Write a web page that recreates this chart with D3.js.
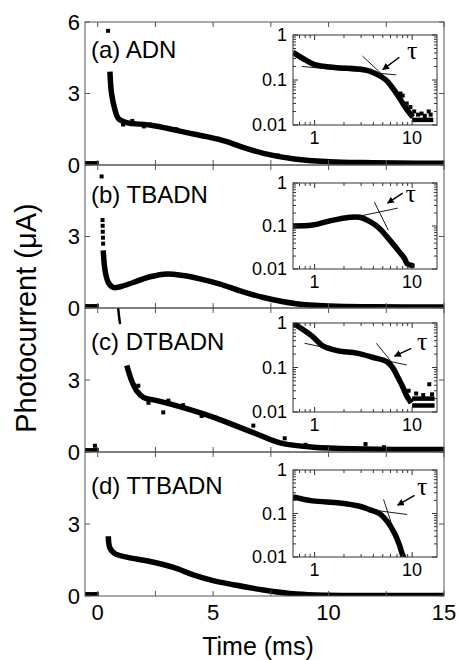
<!DOCTYPE html>
<html>
<head>
<meta charset="utf-8">
<script src="https://d3js.org/d3.v7.min.js"></script>
<style>
  body { margin: 0; background: #fff; }
  text { font-family: "Liberation Sans", Arial, sans-serif; fill: #000; }
</style>
</head>
<body>
<div id="chart"></div>
<script>
// ---- data ----
var panelNames = ["(a) ADN", "(b) TBADN", "(c) DTBADN", "(d) TTBADN"];
var xTicks = [0, 2.5, 5, 7.5, 10, 12.5, 15];
var xTickLabels = [0, 5, 10, 15];
var yTicks = [0, 3, 6];

// main transients, [time ms, current uA]
var adnMain = [[0.53,3.92],[0.6,3.0],[0.75,2.31],[0.89,1.96],[1.26,1.78],[2.27,1.68],[3.0,1.54],[3.86,1.36],[4.72,1.19],[5.59,0.98],[6.17,0.78],[7.18,0.49],[8.6,0.24],[10.07,0.14],[11.5,0.1],[13,0.08],[15,0.07]];
var tbadnMain = [[0.24,2.42],[0.32,1.57],[0.46,1.07],[0.68,0.86],[0.97,0.89],[1.54,1.07],[2.27,1.31],[3.0,1.43],[3.71,1.36],[4.43,1.22],[5.3,1.0],[6.17,0.72],[7.18,0.44],[8.6,0.18],[10.07,0.08],[12,0.05],[15,0.04]];
var dtbadnMain = [[1.26,3.6],[1.47,2.97],[1.69,2.55],[1.98,2.28],[2.56,2.14],[3.28,1.96],[4.14,1.72],[5.0,1.45],[5.88,1.13],[6.89,0.75],[7.9,0.38],[9.34,0.2],[11.5,0.13],[15,0.1]];
var ttbadnMain = [[0.46,2.49],[0.53,2.0],[0.75,1.76],[1.26,1.62],[2.27,1.44],[3.28,1.19],[4.14,0.88],[5.0,0.64],[5.88,0.47],[7.18,0.25],[8.62,0.08],[10,0.03],[12,0.02],[15,0.02]];
var baseline = [[-0.55,0.05],[0.05,0.05]];
var dtbadnSpike = [[0.86,6.5],[0.89,5.96],[0.97,5.33]];

// isolated points (spike tops, noisy samples)
var adnDots = [[0.45,5.63],[1.1,1.7],[1.5,1.85],[2.0,1.62],[3.4,1.5],[5.2,1.1],[7.8,0.4]];
var tbadnDots = [[0.17,5.52],[0.21,3.69],[0.215,3.45],[0.22,3.2],[0.23,2.95],[0.235,2.7]];
var dtbadnDots = [[-0.12,0.26],[1.76,2.76],[2.2,2.05],[2.84,1.65],[3.06,2.14],[3.7,1.95],[4.5,1.5],[5.3,1.35],[6.74,1.1],[8.1,0.57],[9.0,0.3],[11.6,0.33],[12.4,0.2]];
var ttbadnDots = [];

// insets, log-log [time ms, current]
var adnInset = [[0.6,0.41],[0.8,0.28],[1.0,0.22],[1.6,0.19],[3.2,0.17],[4.2,0.14],[5.4,0.1],[6.2,0.07],[7.1,0.046],[8.3,0.027],[9.5,0.018],[10.2,0.015]];
var tbadnInset = [[0.6,0.1],[0.95,0.105],[1.4,0.13],[2.3,0.16],[2.9,0.16],[3.7,0.126],[4.6,0.089],[5.9,0.047],[7.1,0.028],[8.3,0.018],[9.0,0.013],[10.2,0.012]];
var dtbadnInset = [[0.6,1.0],[0.95,0.5],[1.2,0.31],[1.7,0.24],[2.7,0.21],[3.9,0.17],[5.5,0.135],[6.3,0.1],[7.1,0.062],[8.0,0.037],[8.8,0.023],[9.8,0.016]];
var ttbadnInset = [[0.6,0.24],[0.95,0.195],[1.8,0.175],[2.9,0.147],[3.65,0.123],[4.6,0.1],[5.6,0.064],[6.6,0.035],[7.4,0.019],[8.0,0.011],[8.3,0.0095]];

// noise floors and stray points in the insets
var adnFloor = [[[10,0.013],[16.5,0.013]]];
var adnInsetDots = [[7.6,0.05],[8.8,0.03],[9.6,0.025],[10.5,0.02],[11.5,0.017],[12.5,0.018],[13.5,0.016],[14.8,0.02],[15.5,0.017],[8.0,0.045]];
var tbadnFloor = [[[9.6,0.012],[10.6,0.012]]];
var tbadnInsetDots = [];
var dtbadnFloor = [[[10,0.02],[17,0.02]], [[10,0.014],[17,0.014]]];
var dtbadnInsetDots = [[15,0.042],[11,0.026],[13,0.024],[16,0.025],[9.2,0.03]];
var ttbadnFloor = [];
var ttbadnInsetDots = [];

// tangent lines, arrow (from, to) and tau label, log-log coordinates
var adnFits = [[[0.74,0.2],[6.9,0.13]], [[3.1,0.34],[5.2,0.119]]];
var tbadnFits = [[[2.9,0.17],[7.1,0.26]], [[4.1,0.36],[5.7,0.08]]];
var dtbadnFits = [[[0.79,0.35],[8.8,0.114]], [[4.3,0.35],[6.3,0.124]]];
var ttbadnFits = [[[3.65,0.123],[8.9,0.095]], [[5.1,0.21],[6.3,0.049]]];
var adnArrow = [[7.4,0.32],[5.0,0.17]], adnTau = [10, 0.30];
var tbadnArrow = [[8.0,0.58],[5.6,0.34]], tbadnTau = [9.7, 0.364];
var dtbadnArrow = [[9.8,0.27],[6.6,0.18]], dtbadnTau = [12.7, 0.249];
var ttbadnArrow = [[10.6,0.26],[7.1,0.155]], ttbadnTau = [12.7, 0.26];

var insetXTicks = [0.7,0.8,0.9,1,2,3,4,5,6,7,8,9,10];
var insetYTicks = [0.01,0.02,0.03,0.04,0.05,0.06,0.07,0.08,0.09,0.1,0.2,0.3,0.4,0.5,0.6,0.7,0.8,0.9,1];

var panels = [
	{main: adnMain, spike: [], dots: adnDots, inset: adnInset, floor: adnFloor, insetDots: adnInsetDots, fits: adnFits, arrow: adnArrow, tau: adnTau},
	{main: tbadnMain, spike: [], dots: tbadnDots, inset: tbadnInset, floor: tbadnFloor, insetDots: tbadnInsetDots, fits: tbadnFits, arrow: tbadnArrow, tau: tbadnTau},
	{main: dtbadnMain, spike: dtbadnSpike, dots: dtbadnDots, inset: dtbadnInset, floor: dtbadnFloor, insetDots: dtbadnInsetDots, fits: dtbadnFits, arrow: dtbadnArrow, tau: dtbadnTau},
	{main: ttbadnMain, spike: [], dots: ttbadnDots, inset: ttbadnInset, floor: ttbadnFloor, insetDots: ttbadnInsetDots, fits: ttbadnFits, arrow: ttbadnArrow, tau: ttbadnTau}
];

// ---- layout ----
var W = 459, H = 660;
var left = 85, right = 444;
var panelTop = [22, 165, 308, 452], panelBottom = [165, 308, 452, 596];
var labelY = [58, 203, 350, 494];
var insetTop = [35, 183, 323, 470], insetBottom = [125, 269, 412, 557];
var insetLeft = 293, insetRight = 437;
var axisColor = "#555";

var svg = d3.select("#chart")
	.append("svg")
		.attr("width", W)
		.attr("height", H);
svg.append("rect").attr("width", W).attr("height", H).attr("fill", "#fff");

var defs = svg.append("defs");
defs.append("marker")
	.attr("id", "head")
	.attr("viewBox", "0 0 10 10")
	.attr("refX", 9).attr("refY", 5)
	.attr("markerWidth", 7).attr("markerHeight", 7)
	.attr("markerUnits", "userSpaceOnUse")
	.attr("orient", "auto")
	.append("path")
		.attr("d", "M0,0 L10,5 L0,10 z")
		.attr("fill", "#000");

var xScale = d3.scaleLinear().domain([-0.55, 15]).range([left, right]);
var ixScale = d3.scaleLog().domain([0.6, 18]).range([insetLeft, insetRight]);

panels.forEach(function(p, i) {
	var yScale = d3.scaleLinear().domain([0, 6]).range([panelBottom[i], panelTop[i]]);
	var g = svg.append("g");

	defs.append("clipPath").attr("id", "clip" + i)
		.append("rect")
			.attr("x", left).attr("y", panelTop[i])
			.attr("width", right - left).attr("height", panelBottom[i] - panelTop[i]);

	var line = d3.line()
		.x(d => xScale(d[0]))
		.y(d => yScale(d[1]))
		.curve(d3.curveCatmullRom);

	var data = g.append("g").attr("clip-path", "url(#clip" + i + ")");
	[baseline, p.main, p.spike].forEach(function(s) {
		if (!s.length) return;
		data.append("path")
			.datum(s)
			.attr("d", line)
			.attr("fill", "none")
			.attr("stroke", "#000")
			.attr("stroke-width", s === p.spike ? 2.5 : 5.5)
			.attr("stroke-linecap", "butt");
	});
	data.selectAll(".dot")
		.data(p.dots)
		.enter().append("rect")
			.attr("x", d => xScale(d[0]) - 2)
			.attr("y", d => yScale(d[1]) - 2)
			.attr("width", 4).attr("height", 4)
			.attr("fill", "#000");

	// frame with inward ticks on all sides
	g.append("rect")
		.attr("x", left).attr("y", panelTop[i])
		.attr("width", right - left).attr("height", panelBottom[i] - panelTop[i])
		.attr("fill", "none").attr("stroke", axisColor).attr("stroke-width", 1);
	xTicks.forEach(function(t) {
		g.append("line")
			.attr("x1", xScale(t)).attr("x2", xScale(t))
			.attr("y1", panelBottom[i]).attr("y2", panelBottom[i] - 5)
			.attr("stroke", axisColor);
		g.append("line")
			.attr("x1", xScale(t)).attr("x2", xScale(t))
			.attr("y1", panelTop[i]).attr("y2", panelTop[i] + 5)
			.attr("stroke", axisColor);
	});
	yTicks.forEach(function(v) {
		g.append("line")
			.attr("x1", left).attr("x2", left + 5)
			.attr("y1", yScale(v)).attr("y2", yScale(v))
			.attr("stroke", axisColor);
		g.append("line")
			.attr("x1", right).attr("x2", right - 5)
			.attr("y1", yScale(v)).attr("y2", yScale(v))
			.attr("stroke", axisColor);
		if (v === 6 && i > 0) return;
		g.append("text")
			.attr("x", left - 5)
			.attr("y", yScale(v))
			.attr("dy", "0.35em")
			.attr("text-anchor", "end")
			.style("font-size", "22px")
			.text(v);
	});

	g.append("text")
		.attr("x", 91)
		.attr("y", labelY[i])
		.style("font-size", "24px")
		.text(panelNames[i]);

	// ---- inset (log-log) ----
	var iyScale = d3.scaleLog().domain([0.01, 1]).range([insetBottom[i], insetTop[i]]);
	var ig = svg.append("g");
	ig.append("rect")
		.attr("x", insetLeft).attr("y", insetTop[i])
		.attr("width", insetRight - insetLeft).attr("height", insetBottom[i] - insetTop[i])
		.attr("fill", "#fff");

	defs.append("clipPath").attr("id", "iclip" + i)
		.append("rect")
			.attr("x", insetLeft).attr("y", insetTop[i])
			.attr("width", insetRight - insetLeft).attr("height", insetBottom[i] - insetTop[i]);

	var iline = d3.line()
		.x(d => ixScale(d[0]))
		.y(d => iyScale(d[1]))
		.curve(d3.curveCatmullRom);
	var idata = ig.append("g").attr("clip-path", "url(#iclip" + i + ")");
	idata.append("path")
		.datum(p.inset)
		.attr("d", iline)
		.attr("fill", "none")
		.attr("stroke", "#000")
		.attr("stroke-width", 5.5);
	p.floor.forEach(function(s) {
		idata.append("path")
			.datum(s)
			.attr("d", d3.line().x(d => ixScale(d[0])).y(d => iyScale(d[1])))
			.attr("fill", "none")
			.attr("stroke", "#000")
			.attr("stroke-width", 4.5);
	});
	idata.selectAll(".idot")
		.data(p.insetDots)
		.enter().append("rect")
			.attr("x", d => ixScale(d[0]) - 2)
			.attr("y", d => iyScale(d[1]) - 2)
			.attr("width", 4).attr("height", 4)
			.attr("fill", "#000");
	p.fits.forEach(function(s) {
		ig.append("path")
			.datum(s)
			.attr("d", d3.line().x(d => ixScale(d[0])).y(d => iyScale(d[1])))
			.attr("stroke", "#000")
			.attr("stroke-width", 0.9);
	});
	ig.append("line")
		.attr("x1", ixScale(p.arrow[0][0])).attr("y1", iyScale(p.arrow[0][1]))
		.attr("x2", ixScale(p.arrow[1][0])).attr("y2", iyScale(p.arrow[1][1]))
		.attr("stroke", "#000").attr("stroke-width", 1.5)
		.attr("marker-end", "url(#head)");
	ig.append("text")
		.attr("x", ixScale(p.tau[0]))
		.attr("y", iyScale(p.tau[1]))
		.attr("text-anchor", "middle")
		.style("font-family", "'Liberation Serif', serif")
		.style("font-size", "26px")
		.text("τ");

	// inset frame and ticks
	ig.append("rect")
		.attr("x", insetLeft).attr("y", insetTop[i])
		.attr("width", insetRight - insetLeft).attr("height", insetBottom[i] - insetTop[i])
		.attr("fill", "none").attr("stroke", "#333").attr("stroke-width", 1);
	insetXTicks.forEach(function(t) {
		var len = (t === 1 || t === 10) ? 5 : 3;
		ig.append("line")
			.attr("x1", ixScale(t)).attr("x2", ixScale(t))
			.attr("y1", insetBottom[i]).attr("y2", insetBottom[i] - len)
			.attr("stroke", "#333");
		ig.append("line")
			.attr("x1", ixScale(t)).attr("x2", ixScale(t))
			.attr("y1", insetTop[i]).attr("y2", insetTop[i] + len)
			.attr("stroke", "#333");
	});
	insetYTicks.forEach(function(v) {
		var major = (v === 0.01 || v === 0.1 || v === 1);
		var len = major ? 5 : 3;
		ig.append("line")
			.attr("x1", insetLeft).attr("x2", insetLeft + len)
			.attr("y1", iyScale(v)).attr("y2", iyScale(v))
			.attr("stroke", "#333");
		ig.append("line")
			.attr("x1", insetRight).attr("x2", insetRight - len)
			.attr("y1", iyScale(v)).attr("y2", iyScale(v))
			.attr("stroke", "#333");
		if (!major) return;
		ig.append("text")
			.attr("x", insetLeft - 6)
			.attr("y", iyScale(v))
			.attr("dy", "0.35em")
			.attr("text-anchor", "end")
			.style("font-size", "18px")
			.text(v);
	});
	[1, 10].forEach(function(t) {
		ig.append("text")
			.attr("x", ixScale(t))
			.attr("y", insetBottom[i] + 19)
			.attr("text-anchor", "middle")
			.style("font-size", "18px")
			.text(t);
	});
});

// x tick labels under the bottom panel
xTickLabels.forEach(function(t) {
	svg.append("text")
		.attr("x", xScale(t))
		.attr("y", 620)
		.attr("text-anchor", "middle")
		.style("font-size", "22px")
		.text(t);
});

// axis titles
svg.append("text")
	.attr("x", 258)
	.attr("y", 655)
	.attr("text-anchor", "middle")
	.style("font-size", "25px")
	.text("Time (ms)");
svg.append("text")
	.attr("transform", "translate(36,318) rotate(-90)")
	.attr("text-anchor", "middle")
	.style("font-size", "29px")
	.text("Photocurrent (μA)");
</script>
</body>
</html>
